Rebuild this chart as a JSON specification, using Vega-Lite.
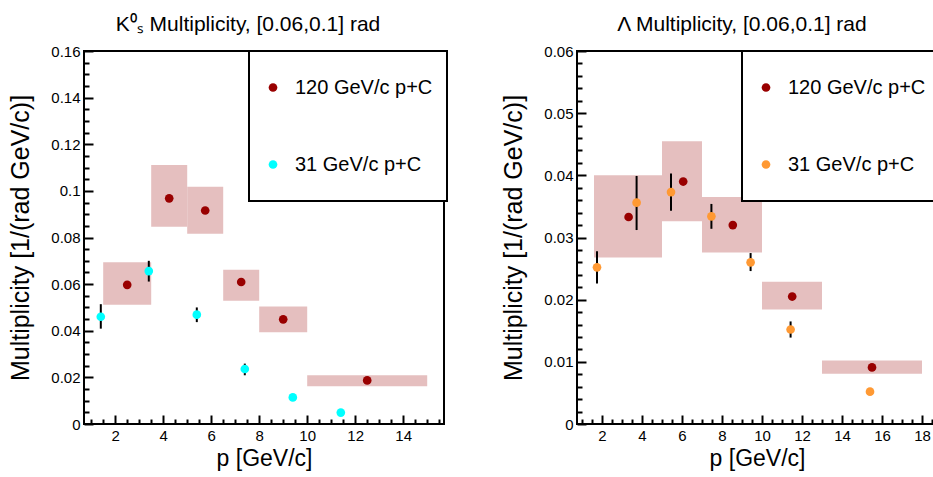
{
  "$schema": "https://vega.github.io/schema/vega-lite/v6.json",
  "padding": {"left": 7, "top": 13, "right": 0, "bottom": 0},
  "background": "white",
  "spacing": 51,
  "config": {
    "font": "Liberation Sans",
    "view": {"stroke": "black", "strokeWidth": 2},
    "axis": {
      "domain": false, "grid": false,
      "labelFont": "Liberation Sans", "labelFontSize": 15, "labelColor": "black",
      "titleFont": "Liberation Sans", "titleFontWeight": "normal", "titleColor": "black",
      "tickColor": "black", "tickWidth": 2, "labelOverlap": false, "labelFlush": false
    },
    "title": {"font": "Liberation Sans", "fontSize": 21, "fontWeight": "normal", "color": "black", "anchor": "middle", "frame": "group", "offset": 9},
    "legend": {
      "orient": "none", "title": null, "strokeColor": "black", "strokeWidth": 2, "fillColor": "white",
      "padding": 14, "clipHeight": 45, "rowPadding": 32, "labelOffset": 12,
      "labelFont": "Liberation Sans", "labelFontSize": 20, "labelColor": "black", "labelLimit": 300,
      "symbolType": "circle", "symbolSize": 75, "symbolStrokeWidth": 0
    }
  },
  "resolve": {"scale": {"x": "independent", "y": "independent", "color": "independent"}, "legend": {"color": "independent"}},
  "hconcat": [
    {
      "width": 360, "height": 373,
      "title": {"text": "K⁰ₛ Multiplicity, [0.06,0.1] rad", "dx": -16},
      "data": {"values": [
        {"beam": "120 GeV/c p+C", "p": 2.5, "m": 0.0597, "xlo": 1.5, "xhi": 3.5, "ylo": 0.0512, "yhi": 0.0694},
        {"beam": "120 GeV/c p+C", "p": 4.25, "m": 0.0968, "xlo": 3.5, "xhi": 5.0, "ylo": 0.0846, "yhi": 0.1111},
        {"beam": "120 GeV/c p+C", "p": 5.75, "m": 0.0916, "xlo": 5.0, "xhi": 6.5, "ylo": 0.0816, "yhi": 0.1018},
        {"beam": "120 GeV/c p+C", "p": 7.25, "m": 0.0609, "xlo": 6.5, "xhi": 8.0, "ylo": 0.0529, "yhi": 0.0662},
        {"beam": "120 GeV/c p+C", "p": 9.0, "m": 0.0449, "xlo": 8.0, "xhi": 10.0, "ylo": 0.0394, "yhi": 0.0504},
        {"beam": "120 GeV/c p+C", "p": 12.5, "m": 0.0187, "xlo": 10.0, "xhi": 15.0, "ylo": 0.0162, "yhi": 0.0209},
        {"beam": "31 GeV/c p+C", "p": 1.4, "m": 0.046, "elo": 0.0409, "ehi": 0.0514},
        {"beam": "31 GeV/c p+C", "p": 3.4, "m": 0.0656, "elo": 0.0611, "ehi": 0.07},
        {"beam": "31 GeV/c p+C", "p": 5.4, "m": 0.0469, "elo": 0.0437, "ehi": 0.05},
        {"beam": "31 GeV/c p+C", "p": 7.4, "m": 0.0236, "elo": 0.0209, "ehi": 0.0259},
        {"beam": "31 GeV/c p+C", "p": 9.4, "m": 0.0114, "elo": 0.0109, "ehi": 0.0119},
        {"beam": "31 GeV/c p+C", "p": 11.4, "m": 0.0049}
      ]},
      "resolve": {"axis": {"x": "independent", "y": "independent"}},
      "layer": [
        {
          "mark": {"type": "rect", "fill": "#e5bfbf", "stroke": null},
          "transform": [{"filter": "isValid(datum.xlo)"}],
          "encoding": {
            "x": {"field": "xlo", "type": "quantitative",
              "scale": {"domain": [0.7, 15.7], "nice": false, "zero": false},
              "axis": {"orient": "bottom", "title": "p [GeV/c]", "titleFontSize": 23, "titlePadding": 4, "labelPadding": 13, "tickSize": -9, "format": "~g",
                "values": [2,4,6,8,10,12,14]}},
            "x2": {"field": "xhi"},
            "y": {"field": "ylo", "type": "quantitative",
              "scale": {"domain": [0, 0.16], "nice": false, "zero": false},
              "axis": {"orient": "left", "title": "Multiplicity [1/(rad GeV/c)]", "titleFontSize": 25, "titlePadding": 17, "labelPadding": 13, "tickSize": -9, "format": "~g",
                "values": [0,0.02,0.04,0.06,0.08,0.1,0.12,0.14,0.16]}},
            "y2": {"field": "yhi"}
          }
        },
        {
          "mark": {"type": "rule", "color": "black", "strokeWidth": 2},
          "transform": [{"filter": "isValid(datum.elo)"}],
          "encoding": {
            "x": {"field": "p", "type": "quantitative",
              "axis": {"orient": "bottom", "title": null, "labels": false, "tickSize": -5,
                "values": [1,1.5,2.5,3,3.5,4.5,5,5.5,6.5,7,7.5,8.5,9,9.5,10.5,11,11.5,12.5,13,13.5,14.5,15,15.5]}},
            "y": {"field": "elo", "type": "quantitative",
              "axis": {"orient": "left", "title": null, "labels": false, "tickSize": -5,
                "values": [0.005,0.01,0.015,0.025,0.03,0.035,0.045,0.05,0.055,0.065,0.07,0.075,0.085,0.09,0.095,0.105,0.11,0.115,0.125,0.13,0.135,0.145,0.15,0.155]}},
            "y2": {"field": "ehi"}
          }
        },
        {
          "mark": {"type": "point", "filled": true, "shape": "circle", "size": 75, "opacity": 1},
          "encoding": {
            "x": {"field": "p", "type": "quantitative", "axis": null},
            "y": {"field": "m", "type": "quantitative", "axis": null},
            "color": {"field": "beam", "type": "nominal",
              "scale": {"domain": ["120 GeV/c p+C", "31 GeV/c p+C"], "range": ["#990000", "#00ffff"]},
              "legend": {"legendX": 165, "legendY": 0}}
          }
        }
      ]
    },
    {
      "width": 360, "height": 373,
      "title": {"text": "Λ Multiplicity, [0.06,0.1] rad", "dx": -15},
      "data": {"values": [
        {"beam": "120 GeV/c p+C", "p": 3.33, "m": 0.0333, "xlo": 1.6, "xhi": 5.0, "ylo": 0.0268, "yhi": 0.04},
        {"beam": "120 GeV/c p+C", "p": 6.06, "m": 0.039, "xlo": 5.0, "xhi": 7.0, "ylo": 0.0326, "yhi": 0.0455},
        {"beam": "120 GeV/c p+C", "p": 8.54, "m": 0.032, "xlo": 7.0, "xhi": 10.0, "ylo": 0.0276, "yhi": 0.0365},
        {"beam": "120 GeV/c p+C", "p": 11.51, "m": 0.0205, "xlo": 10.0, "xhi": 13.0, "ylo": 0.0184, "yhi": 0.0229},
        {"beam": "120 GeV/c p+C", "p": 15.5, "m": 0.0091, "xlo": 13.0, "xhi": 18.0, "ylo": 0.0081, "yhi": 0.0102},
        {"beam": "31 GeV/c p+C", "p": 1.75, "m": 0.0252, "elo": 0.0226, "ehi": 0.0278},
        {"beam": "31 GeV/c p+C", "p": 3.73, "m": 0.0356, "elo": 0.0312, "ehi": 0.0399},
        {"beam": "31 GeV/c p+C", "p": 5.45, "m": 0.0373, "elo": 0.0343, "ehi": 0.0403},
        {"beam": "31 GeV/c p+C", "p": 7.47, "m": 0.0334, "elo": 0.0314, "ehi": 0.0354},
        {"beam": "31 GeV/c p+C", "p": 9.43, "m": 0.026, "elo": 0.0246, "ehi": 0.0275},
        {"beam": "31 GeV/c p+C", "p": 11.43, "m": 0.0152, "elo": 0.0139, "ehi": 0.0165},
        {"beam": "31 GeV/c p+C", "p": 15.4, "m": 0.0052}
      ]},
      "resolve": {"axis": {"x": "independent", "y": "independent"}},
      "layer": [
        {
          "mark": {"type": "rect", "fill": "#e5bfbf", "stroke": null},
          "transform": [{"filter": "isValid(datum.xlo)"}],
          "encoding": {
            "x": {"field": "xlo", "type": "quantitative",
              "scale": {"domain": [0.75, 18.75], "nice": false, "zero": false},
              "axis": {"orient": "bottom", "title": "p [GeV/c]", "titleFontSize": 23, "titlePadding": 4, "labelPadding": 13, "tickSize": -9, "format": "~g",
                "values": [2,4,6,8,10,12,14,16,18]}},
            "x2": {"field": "xhi"},
            "y": {"field": "ylo", "type": "quantitative",
              "scale": {"domain": [0, 0.06], "nice": false, "zero": false},
              "axis": {"orient": "left", "title": "Multiplicity [1/(rad GeV/c)]", "titleFontSize": 25, "titlePadding": 17, "labelPadding": 13, "tickSize": -9, "format": "~g",
                "values": [0,0.01,0.02,0.03,0.04,0.05,0.06]}},
            "y2": {"field": "yhi"}
          }
        },
        {
          "mark": {"type": "rule", "color": "black", "strokeWidth": 2},
          "transform": [{"filter": "isValid(datum.elo)"}],
          "encoding": {
            "x": {"field": "p", "type": "quantitative",
              "axis": {"orient": "bottom", "title": null, "labels": false, "tickSize": -5,
                "values": [1,1.5,2.5,3,3.5,4.5,5,5.5,6.5,7,7.5,8.5,9,9.5,10.5,11,11.5,12.5,13,13.5,14.5,15,15.5,16.5,17,17.5,18.5]}},
            "y": {"field": "elo", "type": "quantitative",
              "axis": {"orient": "left", "title": null, "labels": false, "tickSize": -5,
                "values": [0.002,0.004,0.006,0.008,0.012,0.014,0.016,0.018,0.022,0.024,0.026,0.028,0.032,0.034,0.036,0.038,0.042,0.044,0.046,0.048,0.052,0.054,0.056,0.058]}},
            "y2": {"field": "ehi"}
          }
        },
        {
          "mark": {"type": "point", "filled": true, "shape": "circle", "size": 75, "opacity": 1},
          "encoding": {
            "x": {"field": "p", "type": "quantitative", "axis": null},
            "y": {"field": "m", "type": "quantitative", "axis": null},
            "color": {"field": "beam", "type": "nominal",
              "scale": {"domain": ["120 GeV/c p+C", "31 GeV/c p+C"], "range": ["#990000", "#ff9933"]},
              "legend": {"legendX": 165, "legendY": 0}}
          }
        }
      ]
    }
  ]
}
